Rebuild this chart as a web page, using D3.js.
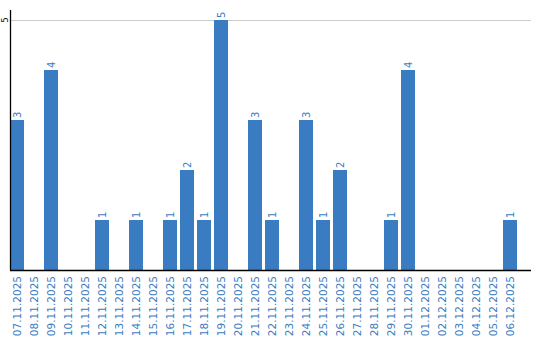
<!DOCTYPE html>
<html>
<head>
<meta charset="utf-8">
<script src="https://cdn.jsdelivr.net/npm/d3@7"></script>
<style>
  body { margin: 0; background: #fff; }
  text { font-family: "DejaVu Sans", sans-serif; }
</style>
</head>
<body>
<div id="chart"></div>
<script>
// dates and counts
const dates = ["07.11.2025","08.11.2025","09.11.2025","10.11.2025","11.11.2025","12.11.2025",
  "13.11.2025","14.11.2025","15.11.2025","16.11.2025","17.11.2025","18.11.2025","19.11.2025",
  "20.11.2025","21.11.2025","22.11.2025","23.11.2025","24.11.2025","25.11.2025","26.11.2025",
  "27.11.2025","28.11.2025","29.11.2025","30.11.2025","01.12.2025","02.12.2025","03.12.2025",
  "04.12.2025","05.12.2025","06.12.2025"];
const counts = [3,0,4,0,0,1,0,1,0,1,2,1,5,0,3,1,0,3,1,2,0,0,1,4,0,0,0,0,0,1];
const yTicks = [5];

const width = 540, height = 340;
const plotLeft = 10, plotTop = 20, plotBottom = 270, plotRight = 531;
const blue = "#3a7cc2";

const svg = d3.select("#chart").append("svg")
  .attr("width", width).attr("height", height);

const x = d3.scaleBand()
  .domain(dates)
  .range([plotLeft, 517])
  .paddingInner(3 / 17)
  .paddingOuter(0);

const y = d3.scaleLinear()
  .domain([0, 5])
  .range([plotBottom, plotTop]);

const rows = counts.map((v, i) => ({ date: dates[i], v })).filter(d => d.v > 0);

// grid line
svg.append("g").selectAll("line")
  .data(yTicks).join("line")
  .attr("x1", plotLeft).attr("x2", plotRight)
  .attr("y1", d => y(d) + 0.5).attr("y2", d => y(d) + 0.5)
  .attr("stroke", "#cccccc");

// bars
svg.append("g").selectAll("rect")
  .data(rows)
  .join("rect")
  .attr("x", d => x(d.date))
  .attr("y", d => y(d.v))
  .attr("width", x.bandwidth())
  .attr("height", d => y(0) - y(d.v))
  .attr("fill", blue);

// value labels
svg.append("g").selectAll("text")
  .data(rows)
  .join("text")
  .attr("transform", d => `translate(${x(d.date) + x.bandwidth() / 2 + 3.5},${y(d.v) - 2}) rotate(-90)`)
  .attr("font-size", 10)
  .attr("fill", blue)
  .text(d => d.v);

// x axis
const xAxis = svg.append("g")
  .attr("transform", `translate(0,${plotBottom})`)
  .call(d3.axisBottom(x).tickSize(0).tickPadding(0));
xAxis.select(".domain").remove();
xAxis.selectAll("text")
  .attr("font-size", 10.5)
  .attr("font-family", "DejaVu Sans")
  .attr("fill", blue)
  .attr("text-anchor", "end")
  .attr("dy", null)
  .attr("y", 0)
  .attr("transform", "translate(4,6) rotate(-90)");
svg.append("line")
  .attr("x1", plotLeft).attr("x2", plotRight)
  .attr("y1", plotBottom + 0.5).attr("y2", plotBottom + 0.5)
  .attr("stroke", "#000").attr("stroke-width", 1.3);

// y axis
svg.append("line")
  .attr("x1", plotLeft + 0.5).attr("x2", plotLeft + 0.5)
  .attr("y1", 10).attr("y2", plotBottom)
  .attr("stroke", "#000").attr("stroke-width", 1.3);
svg.append("g").selectAll("text")
  .data(yTicks).join("text")
  .attr("transform", d => `translate(8,${y(d)}) rotate(-90)`)
  .attr("text-anchor", "middle")
  .attr("font-size", 8)
  .attr("fill", "#000")
  .text(d => d);
</script>
</body>
</html>
